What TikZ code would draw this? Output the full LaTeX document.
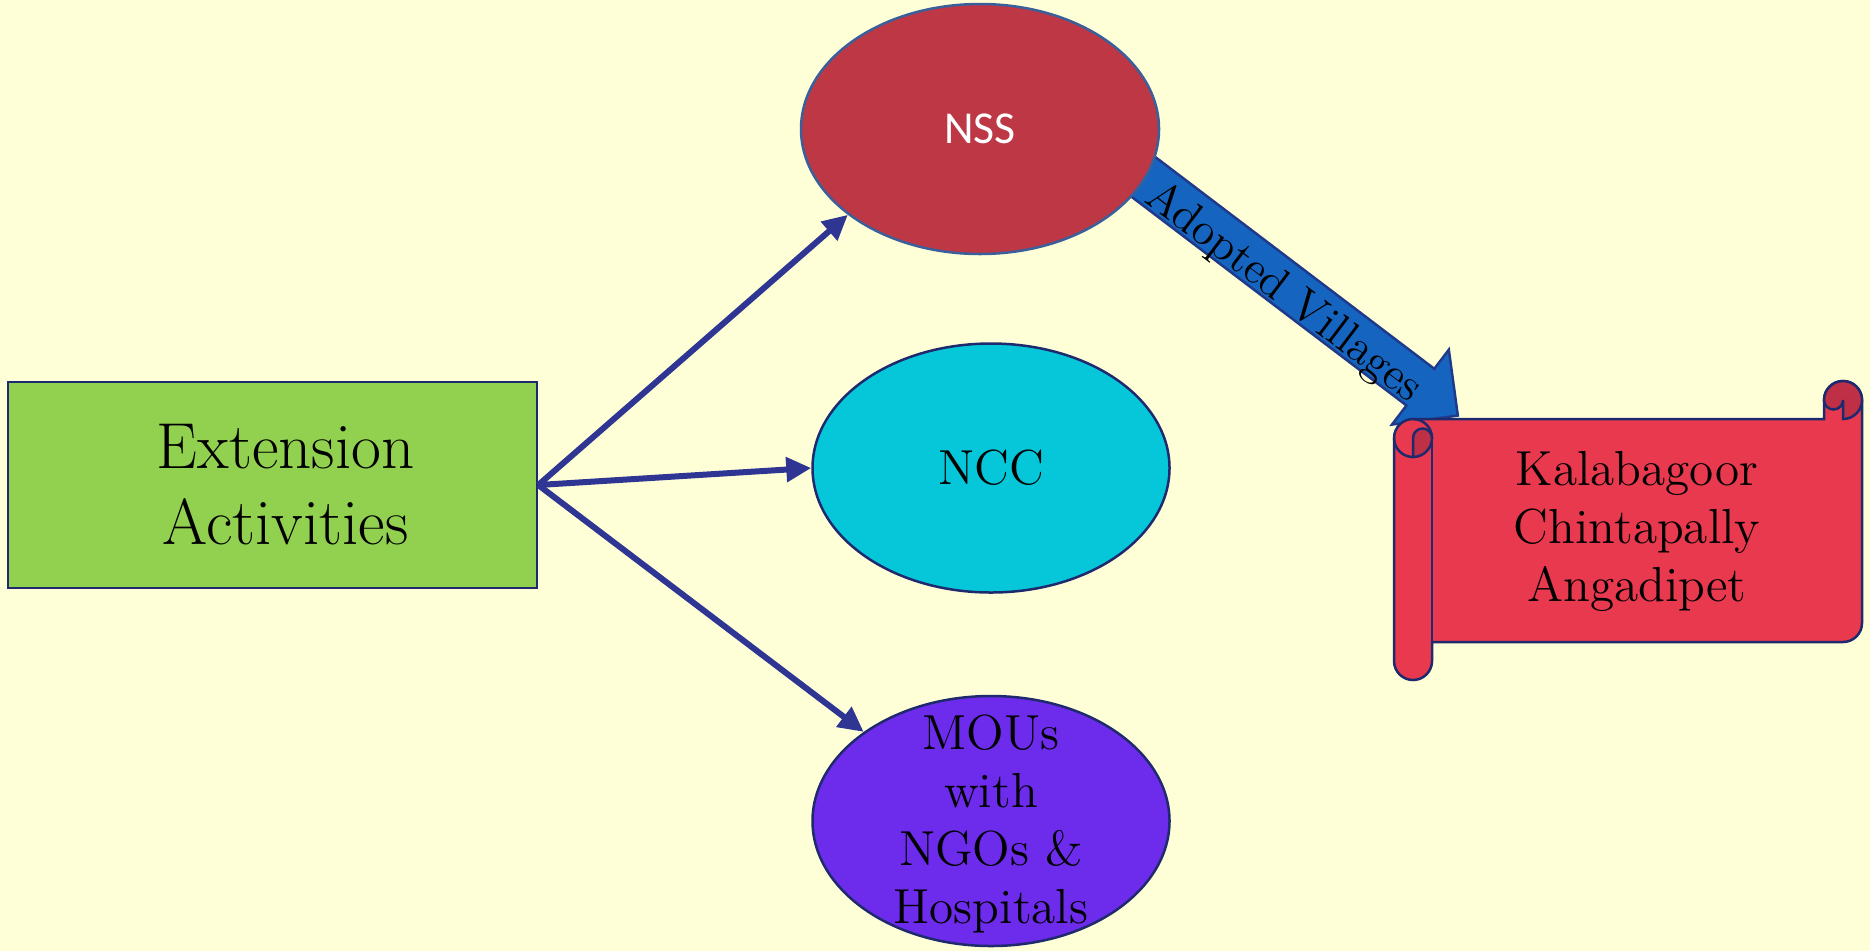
\documentclass[tikz,border=0pt]{standalone}
\usepackage{fontspec}
\newfontfamily\calibrifont{Carlito}
\usetikzlibrary{arrows.meta,positioning,calc,shapes.geometric}
\definecolor{bgyellow}{HTML}{FFFFD7}
\definecolor{actgreen}{HTML}{92D050}
\definecolor{nssred}{HTML}{BE3745}
\definecolor{nssedge}{HTML}{3A5F9A}
\definecolor{ncccyan}{HTML}{05C7D9}
\definecolor{moupurple}{HTML}{6D2BEB}
\definecolor{scrollred}{HTML}{E8394E}
\definecolor{scrolldark}{HTML}{BF2F45}
\definecolor{navy}{HTML}{1F2A6E}
\definecolor{linkblue}{HTML}{2E3592}
\definecolor{adoptblue}{HTML}{1565C0}
\definecolor{adoptedge}{HTML}{1F3A8A}
\tikzset{
    actbox/.style={
        draw=navy,
        fill=actgreen,
        line width=0.25mm,
        align=center,
        minimum width=52.9mm,
        minimum height=20.6mm,
        font=\fontsize{18.5}{21.6}\selectfont
    },
    unit/.style={
        ellipse,
        draw=navy,
        line width=0.25mm,
        inner sep=0pt,
        minimum width=35.7mm,
        minimum height=24.9mm
    },
    unittext/.style={
        align=center,
        font=\fontsize{14}{16.5}\selectfont
    },
    link/.style={
        -{Triangle[length=2.5mm,width=2.4mm]},
        line width=0.6mm,
        draw=linkblue
    },
    scrollpart/.style={
        draw=navy,
        line width=0.25mm
    },
    lbl/.style={font=\fontsize{13}{15}\selectfont}
}

\begin{document}
\begin{tikzpicture}[x=0.1mm, y=0.1mm]

\fill[bgyellow] (0,0) rectangle (1870,-951);
\useasboundingbox (0,0) rectangle (1870,-951);

% broad arrow to the villages
\coordinate (adopttail) at (1050,-106);
\coordinate (adopttip) at (1458,-416);
\begin{scope}[shift={(adopttail)}, rotate=-37.2]
\draw[fill=adoptblue, draw=adoptedge, line width=0.25mm]
    (0,23) -- (465,23) -- (465,47) -- (512,0) -- (465,-47) -- (465,-23) -- (0,-23) -- cycle;
\node[lbl, transform shape] (adopt) at (299,-8) {Adopted Villages};
\end{scope}

\node[actbox] (ext) at (272.5,-485) {\hspace*{2.6mm}Extension\\\hspace*{2.6mm}Activities};
\node[unit, fill=nssred, draw=nssedge, minimum width=35.8mm, minimum height=25mm,
    text=white, font=\calibrifont\fontsize{13}{15}\selectfont] (nss) at (980,-129) {NSS};
\node[unit, fill=ncccyan, font=\fontsize{14}{16.5}\selectfont] (ncc) at (991,-468) {NCC};
\node[unit, fill=moupurple, minimum height=25mm] (mou) at (991,-821) {};
\node[unittext] (moutext) at ($(mou.center)+(0,-3)$) {MOUs\\with\\NGOs \&\\Hospitals};

% scroll
\draw[scrollpart, fill=scrollred]
    (1394,-438) -- (1394,-661) arc[start angle=180, end angle=360, radius=1.9mm]
    -- (1432,-642) -- (1843,-642) arc[start angle=270, end angle=360, radius=1.9mm]
    -- (1862,-400) arc[start angle=0, end angle=180, radius=1.9mm]
    -- (1824,-419) -- (1413,-419) arc[start angle=90, end angle=180, radius=1.9mm] -- cycle;
\draw[scrollpart] (1432,-438) -- (1432,-642);
\draw[scrollpart] (1413,-419) arc[start angle=90, end angle=0, radius=1.9mm];
\draw[scrollpart] (1394,-438) arc[start angle=180, end angle=270, radius=1.9mm];
\draw[scrollpart, fill=scrolldark]
    (1413,-438) arc[start angle=180, end angle=0, radius=0.95mm]
    arc[start angle=0, end angle=-90, radius=1.9mm] -- cycle;
\draw[scrollpart, fill=scrolldark]
    (1824,-400) arc[start angle=180, end angle=0, radius=1.9mm]
    arc[start angle=0, end angle=-90, radius=1.9mm] -- (1843,-400)
    arc[start angle=0, end angle=-180, radius=0.95mm] -- cycle;
\node[unittext] (villages) at (1637,-531) {Kalabagoor\\Chintapally\\Angadipet};

\draw[link] (ext.east) -- (nss.213);
\draw[link] (ext.east) -- (ncc.west);
\draw[link] (ext.east) -- (mou.145);

\end{tikzpicture}
\end{document}
